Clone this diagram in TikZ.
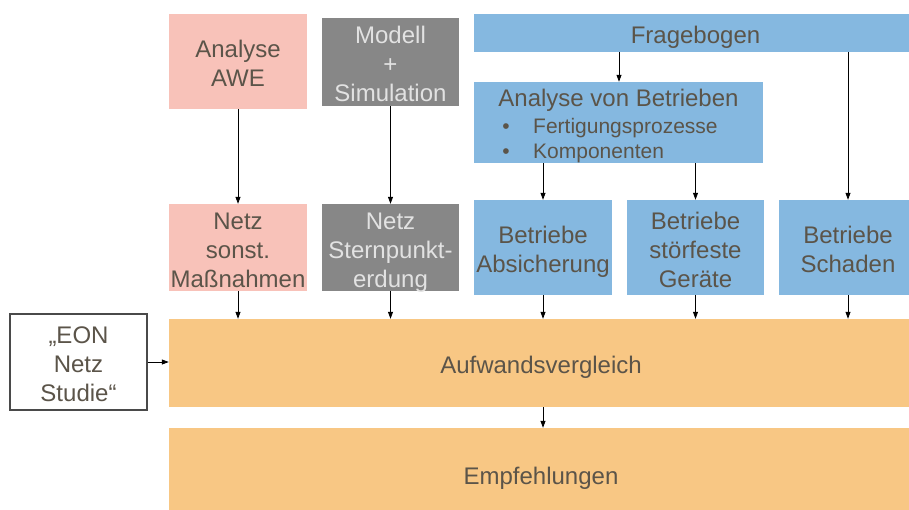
\documentclass[tikz,border=0pt]{standalone}
\usepackage{fontspec}
\setmainfont{Liberation Sans}
\usetikzlibrary{arrows.meta,calc}
\definecolor{pinkc}{HTML}{F8C2B9}
\definecolor{grayc}{HTML}{878787}
\definecolor{bluec}{HTML}{85B8E0}
\definecolor{orangec}{HTML}{F8C784}
\definecolor{txt}{HTML}{5B5449}
\definecolor{ltxt}{HTML}{E2E2E2}
\definecolor{eonline}{HTML}{4A4A4A}
\newcommand{\tx}[1]{\raisebox{-4.8pt}[\height][\depth]{\begin{tabular}{@{}c@{}}#1\end{tabular}}}
\begin{document}
\begin{tikzpicture}[x=1pt,y=-1pt,
  box/.style={rectangle, inner sep=0pt, text=txt, font=\fontsize{24}{29}\selectfont},
  pinkbox/.style={box, fill=pinkc},
  graybox/.style={box, fill=grayc, text=ltxt},
  bluebox/.style={box, fill=bluec},
  orangebox/.style={box, fill=orangec},
  eonbox/.style={box, fill=white, draw=eonline, line width=1.1pt},
  bigtext/.style={inner sep=0pt, text=txt, font=\fontsize{24}{29}\selectfont},
  smalltext/.style={inner sep=0pt, text=txt, font=\fontsize{21}{25}\selectfont},
  arr/.style={-{Triangle[length=7pt,width=5pt]}, line width=0.8pt, black}]
\useasboundingbox (0,0) rectangle (909,509);
\begin{scope}
\clip (0,0) rectangle (909,509);
% top row
\node[pinkbox, minimum width=138pt, minimum height=95pt] (awe) at (238,61.5) {\tx{Analyse\\AWE}};
\node[graybox, minimum width=137pt, minimum height=88pt] (modell) at (390.5,62) {\tx{Modell\\+\\Simulation}};
\node[bluebox, minimum width=443pt, minimum height=38pt] (frage) at (695.5,33) {\tx{Fragebogen}};
\node[bluebox, minimum width=289pt, minimum height=81pt] (avb) at (618.5,122.5) {};
\node[bigtext, anchor=base] (avbt) at (618.5,106) {Analyse von Betrieben};
\node[smalltext, anchor=base] (bul1) at (506,133) {\textbullet};
\node[smalltext, anchor=base west] (avb1) at (533,133) {Fertigungsprozesse};
\node[smalltext, anchor=base] (bul2) at (506,158) {\textbullet};
\node[smalltext, anchor=base west] (avb2) at (533,158) {Komponenten};
% second row
\node[pinkbox, minimum width=138pt, minimum height=87pt] (netz1) at (238,247.5) {\tx{Netz\\sonst.\\Maßnahmen}};
\node[graybox, minimum width=137pt, minimum height=87pt] (netz2) at (390.5,247.5) {\tx{Netz\\Sternpunkt-\\erdung}};
\node[bluebox, minimum width=138pt, minimum height=95pt] (b1) at (543,247.5) {\tx{Betriebe\\Absicherung}};
\node[bluebox, minimum width=137pt, minimum height=95pt] (b2) at (695.5,247.5) {\tx{Betriebe\\störfeste\\Geräte}};
\node[bluebox, minimum width=138pt, minimum height=95pt] (b3) at (848,247.5) {\tx{Betriebe\\Schaden}};
% bottom
\node[orangebox, minimum width=744pt, minimum height=88pt] (aufw) at (541,363) {\tx{Aufwandsvergleich}};
\node[orangebox, minimum width=744pt, minimum height=92pt] (empf) at (541,474) {\tx{Empfehlungen}};
\node[eonbox, minimum width=137pt, minimum height=96pt] (eon) at (78.5,362) {\tx{„EON\\Netz\\Studie“}};
\end{scope}
% connectors
\coordinate (fx) at (619,0);
\draw[arr] (awe.south) -- (netz1.north);
\draw[arr] (modell.south) -- (netz2.north);
\draw[arr] (frage.south -| fx) -- (avb.north -| fx);
\draw[arr] (avb.south -| b1.north) -- (b1.north);
\draw[arr] (avb.south -| b2.north) -- (b2.north);
\draw[arr] (frage.south -| b3.north) -- (b3.north);
\draw[arr] (netz1.south) -- (aufw.north -| netz1.south);
\draw[arr] (netz2.south) -- (aufw.north -| netz2.south);
\draw[arr] (b1.south) -- (aufw.north -| b1.south);
\draw[arr] (b2.south) -- (aufw.north -| b2.south);
\draw[arr] (b3.south) -- (aufw.north -| b3.south);
\draw[arr] (aufw.south -| b1.south) -- (empf.north -| b1.south);
\draw[arr] (eon.east) -- (aufw.west |- eon.east);
\end{tikzpicture}
\end{document}
